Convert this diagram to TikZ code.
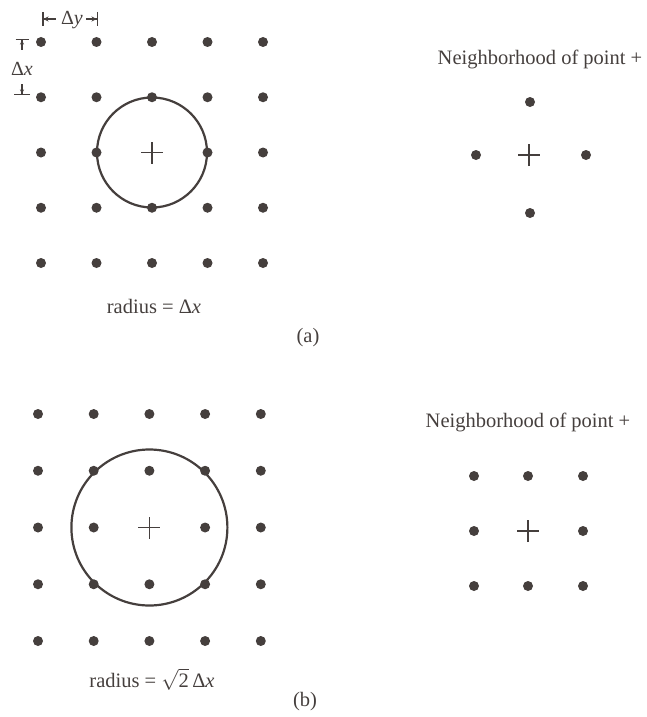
\documentclass[tikz,border=0pt]{standalone}
\usepackage{fontspec}
\setmainfont{Liberation Serif}
\usetikzlibrary{arrows.meta}
\definecolor{ink}{HTML}{453F3D}
\begin{document}
\begin{tikzpicture}[x=1pt,y=-1pt,
  gdot/.style={circle,fill=ink,inner sep=0pt,minimum size=10pt},
  ring/.style={circle,draw=ink,line width=2.2pt,inner sep=0pt},
  lbl/.style={font=\fontsize{20.5}{24}\selectfont,text=ink,anchor=base,inner sep=0pt},
  dimlbl/.style={font=\fontsize{20}{23}\selectfont,text=ink,anchor=base,inner sep=0pt},
  pl/.style={line width=1.6pt,draw=ink},
  dim/.style={line width=1.5pt,draw=ink}]
\useasboundingbox (0,0) rectangle (647,717);

% ---------- (a) grid ----------
\foreach \i in {0,...,4}
  \foreach \j in {0,...,4}
    \node[gdot] (a\i\j) at ({41+55.5*\i},{42+55.25*\j}) {};
\node[ring,minimum size=110pt] (ringa) at (a22) {};
\node[gdot,fill=white,minimum size=12pt] (ma) at (a22) {};
\draw[pl] ([xshift=-11pt]a22.center) -- ([xshift=11pt]a22.center);
\draw[pl] ([yshift=-11pt]a22.center) -- ([yshift=11pt]a22.center);

% dimension marks
\coordinate (dyL) at (42,19);
\coordinate (dyLe) at (56,19);
\coordinate (dyRe) at (86,19);
\coordinate (dyR) at (98,19);
\node[dimlbl] (dy) at (72,25) {Δ\textit{y}};
\draw[dim,{Bar[width=14pt]Stealth[length=5pt,width=5pt]}-] (dyL) -- (dyLe);
\draw[dim,-{Stealth[length=5pt,width=5pt]Bar[width=14pt]}] (dyRe) -- (dyR);

\coordinate (dxT) at (22,39);
\coordinate (dxTe) at (22,50);
\coordinate (dxB) at (22,95);
\coordinate (dxBe) at (22,84);
\node[dimlbl] (dx) at (22,75) {Δ\textit{x}};
\draw[dim,{Bar[width=13pt]Stealth[length=4pt,width=4pt]}-] (dxT) -- (dxTe);
\draw[dim,{Bar[width=16pt]Stealth[length=4pt,width=4pt]}-] (dxB) -- (dxBe);

\node[lbl] (rada) at (154,313) {radius = Δ\textit{x}};
\node[lbl] (capa) at (308,342) {(a)};

% ---------- (a) neighborhood ----------
\node[lbl] (nha) at (540,65) {Neighborhood of point +};
\coordinate (pa) at (529,155);
\draw[pl] ([xshift=-11pt]pa) -- ([xshift=11pt]pa);
\draw[pl] ([yshift=-11pt]pa) -- ([yshift=11pt]pa);
\node[gdot] (na1) at (530,102) {};
\node[gdot] (na2) at (476,155) {};
\node[gdot] (na3) at (586,155) {};
\node[gdot] (na4) at (530,213) {};

% ---------- (b) grid ----------
\foreach \i in {0,...,4}
  \foreach \j in {0,...,4}
    \node[gdot] (b\i\j) at ({38+55.7*\i},{414+56.75*\j}) {};
\node[ring,minimum size=156pt] (ringb) at (b22) {};
\node[gdot,fill=white,minimum size=12pt] (mb) at (b22) {};
\draw[pl] ([xshift=-11pt]b22.center) -- ([xshift=11pt]b22.center);
\draw[pl] ([yshift=-11pt]b22.center) -- ([yshift=11pt]b22.center);

\node[lbl] (radb) at (152,687) {radius = $\sqrt{\hbox{2}}$\,Δ\textit{x}};
\node[lbl] (capb) at (305,706) {(b)};

% ---------- (b) neighborhood ----------
\node[lbl] (nhb) at (528,427) {Neighborhood of point +};
\coordinate (pb) at (528,531);
\draw[pl] ([xshift=-11pt]pb) -- ([xshift=11pt]pb);
\draw[pl] ([yshift=-11pt]pb) -- ([yshift=11pt]pb);
\foreach \i/\x in {0/474,1/528,2/583}
  \foreach \j/\y in {0/476,1/531,2/586}
    {\ifnum\i=1 \ifnum\j=1 \else \node[gdot] (nb\i\j) at (\x,\y) {}; \fi
     \else \node[gdot] (nb\i\j) at (\x,\y) {}; \fi}
\end{tikzpicture}
\end{document}
